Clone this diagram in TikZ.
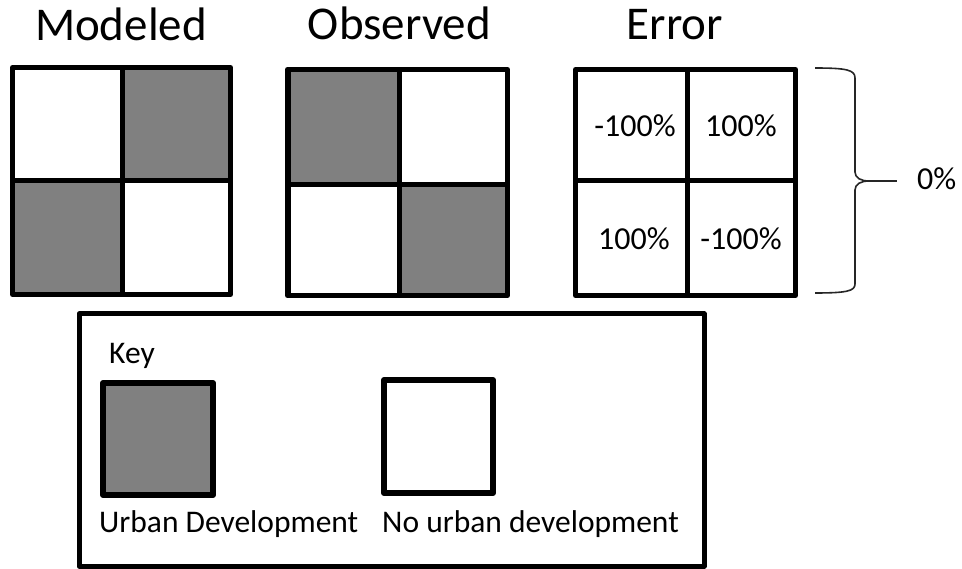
\documentclass[tikz,border=0pt]{standalone}
\usepackage{fontspec}
\setmainfont{Carlito}
\begin{document}
\begin{tikzpicture}[x=1pt,y=-1pt,
  urban/.style={fill=black!50},
  frame/.style={draw=black,line width=5pt,line join=round},
  keysq/.style={draw=black,line width=6pt,line join=round},
  title/.style={anchor=base,inner sep=0pt,font=\fontsize{47}{56}\selectfont},
  label/.style={anchor=base,inner sep=0pt,font=\fontsize{31.5}{38}\selectfont},
  cellnum/.style={anchor=base,inner sep=0pt,font=\fontsize{32}{38}\selectfont},
  brace/.style={draw=black!85,line width=1.6pt}]
\useasboundingbox (0,0) rectangle (962,569);
\fill[white] (0,0) rectangle (962,569);

% ---- Modeled grid ----
\fill[urban] (122,67.5) rectangle (230.5,181);
\fill[urban] (12.5,181) rectangle (122,294.5);
\draw[frame] (12.5,67.5) rectangle (230.5,294.5);
\draw[frame] (122,67.5) -- (122,294.5);
\draw[frame] (12.5,181) -- (230.5,181);
\node[title] (tmod) at (121,41) {Modeled};

% ---- Observed grid ----
\fill[urban] (287.5,69.5) rectangle (399,185);
\fill[urban] (399,185) rectangle (507.5,295.5);
\draw[frame] (287.5,69.5) rectangle (507.5,295.5);
\draw[frame] (288.5,69.5) -- (288.5,295.5);
\draw[frame] (399,69.5) -- (399,295.5);
\draw[frame] (287.5,185) -- (507.5,185);
\node[title] (tobs) at (399.5,40) {Observed};

% ---- Error grid ----
\draw[frame] (575.5,69.5) rectangle (795.5,295.5);
\draw[frame] (687,69.5) -- (687,295.5);
\draw[frame] (575.5,181) -- (795.5,181);
\node[title] (terr) at (675,40) {Error};
\node[cellnum] (e11) at (635,137) {-100\%};
\node[cellnum] (e12) at (741,137) {100\%};
\node[cellnum] (e21) at (634,250) {100\%};
\node[cellnum] (e22) at (741,250) {-100\%};

% ---- brace and total ----
\coordinate (btop) at (815,68);
\coordinate (bbot) at (815,293);
\coordinate (btip) at (869,181);
\coordinate (bend) at (897,181);
\node[cellnum,anchor=base west] (tot) at (917,190) {0\%};
\draw[brace] (btop) .. controls (847,68) and (855,70) .. (855,78)
  -- (855,172) .. controls (855,178) and (861,181) .. (btip)
  .. controls (861,181) and (855,184) .. (855,190)
  -- (855,284) .. controls (855,291) and (847,293) .. (bbot);
\draw[brace] (btip) -- (bend);

% ---- key ----
\draw[frame] (79,314) rectangle (704,566);
\node[label,anchor=base west] (key) at (109,364) {Key};
\draw[keysq,urban] (103,383) rectangle (213,495);
\draw[keysq,fill=white] (384,380) rectangle (493,493);
\node[label,anchor=base west] (lurb) at (99,532) {Urban Development};
\node[label,anchor=base west] (lno) at (382,532) {No urban development};
\end{tikzpicture}
\end{document}
